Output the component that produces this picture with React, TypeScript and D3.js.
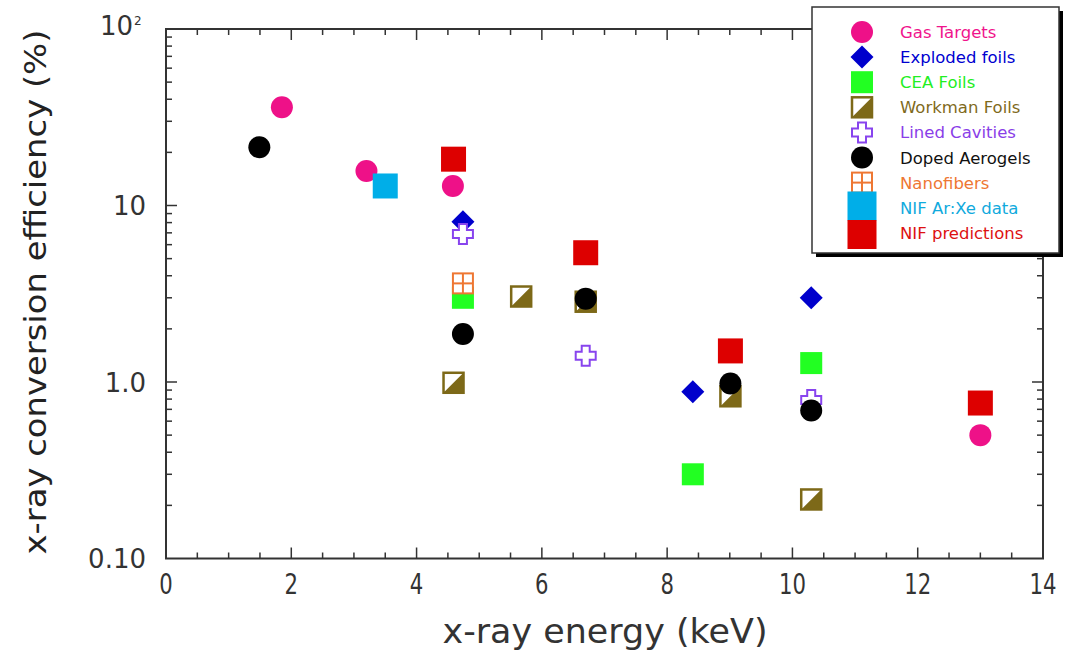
import React from 'react';
import * as d3 from 'd3';

// x-ray energy (keV) / conversion efficiency (%) pairs
const gasTargets = [[1.85, 36], [3.2, 15.7], [4.58, 12.9], [13.0, 0.5]];
const explodedFoils = [[4.74, 8.1], [8.41, 0.88], [10.3, 3.0]];
const ceaFoils = [[4.74, 3.0], [8.41, 0.3], [10.3, 1.28]];
const workmanFoils = [[4.59, 0.99], [5.67, 3.05], [6.7, 2.85], [9.01, 0.83], [10.3, 0.216]];
const linedCavities = [[4.74, 6.9], [6.7, 1.41], [10.3, 0.79]];
const dopedAerogels = [[1.49, 21.4], [4.74, 1.87], [6.7, 2.96], [9.01, 0.98], [10.3, 0.69]];
const nanofibers = [[4.74, 3.62]];
const nifArXe = [[3.5, 12.9]];
const nifPredictions = [[4.59, 18.3], [6.7, 5.4], [9.01, 1.5], [13.0, 0.76]];

const seriesNames = ['Gas Targets', 'Exploded foils', 'CEA Foils', 'Workman Foils', 'Lined Cavities',
  'Doped Aerogels', 'Nanofibers', 'NIF Ar:Xe data', 'NIF predictions'];
const seriesData = [gasTargets, explodedFoils, ceaFoils, workmanFoils, linedCavities,
  dopedAerogels, nanofibers, nifArXe, nifPredictions];
const seriesShape = ['circle', 'diamond', 'square', 'half', 'cross', 'circle', 'grid', 'big', 'big'];
const markColor = ['#ee1188', '#0000cc', '#22ff22', '#7d6918', '#8844ee', '#000000', '#ee7733', '#00aee8', '#dd0000'];
const textColor = ['#f0148c', '#0000d0', '#22ee22', '#7f6a1c', '#8a3ee8', '#111111', '#ee7733', '#11aadd', '#dd1111'];

const xTicksMajor = [0, 2, 4, 6, 8, 10, 12, 14];
const yTickLabels = [{ v: 10, t: '10' }, { v: 1, t: '1.0' }, { v: 0.1, t: '0.10' }];

const W = 1068, H = 656;
const axisColor = '#333';

const Marker = ({ shape, x, y, color, big = 25 }) => {
  if (shape === 'circle') return <circle cx={x} cy={y} r={11} fill={color} />;
  if (shape === 'diamond') {
    const s = 11.5;
    return <polygon points={`${x},${y - s} ${x + s},${y} ${x},${y + s} ${x - s},${y}`} fill={color} />;
  }
  if (shape === 'square') return <rect x={x - 11} y={y - 11} width={22} height={22} fill={color} />;
  if (shape === 'big') return <rect x={x - big / 2} y={y - big / 2} width={big} height={big} fill={color} />;
  if (shape === 'half') {
    return (
      <g>
        <rect x={x - 10} y={y - 10} width={20} height={20} fill="#fff" stroke={color} strokeWidth={2.5} />
        <polygon points={`${x + 10},${y - 10} ${x + 10},${y + 10} ${x - 10},${y + 10}`} fill={color} />
      </g>
    );
  }
  if (shape === 'cross') {
    const a = 4, b = 10;
    const d = `M${x - a},${y - b}H${x + a}V${y - a}H${x + b}V${y + a}H${x + a}V${y + b}H${x - a}V${y + a}H${x - b}V${y - a}H${x - a}Z`;
    return <path d={d} fill="#fff" stroke={color} strokeWidth={2} />;
  }
  if (shape === 'grid') {
    return (
      <g stroke={color} strokeWidth={2} fill="#fff">
        <rect x={x - 10} y={y - 10} width={20} height={20} />
        <line x1={x} x2={x} y1={y - 10} y2={y + 10} />
        <line x1={x - 10} x2={x + 10} y1={y} y2={y} />
      </g>
    );
  }
  return null;
};

export default function App() {
  const x = d3.scaleLinear().domain([0, 14]).range([166, 1043]);
  const y = d3.scaleLog().domain([0.1, 100]).range([558.5, 29]);
  const [x0, x1] = x.range();
  const [yb, yt] = y.range();

  const xMinor = d3.range(0, 14.01, 0.5).filter(v => v % 2 !== 0);
  const yMinor: number[] = [];
  [0.1, 1, 10].forEach(dec => d3.range(2, 10).forEach(m => yMinor.push(dec * m)));
  const yMajor = [1, 10];

  const legX = 812, legY = 7, legW = 247, legH = 246;
  const rowY = (i: number) => 32 + i * 25.1;

  return (
    <svg width={W} height={H} style={{ position: 'absolute', left: 0, top: 0, background: '#fff' }}
      fontFamily="'DejaVu Sans', sans-serif">
      {/* frame */}
      <rect x={x0} y={yt} width={x1 - x0} height={yb - yt} fill="none" stroke={axisColor} strokeWidth={2} />
      {/* x ticks, bottom and top */}
      <g stroke={axisColor} strokeWidth={1.5}>
        {xMinor.map(v => (
          <g key={'xm' + v}>
            <line x1={x(v)} x2={x(v)} y1={yb} y2={yb - 6} />
            <line x1={x(v)} x2={x(v)} y1={yt} y2={yt + 6} />
          </g>
        ))}
        {xTicksMajor.slice(1, -1).map(v => (
          <g key={'xM' + v}>
            <line x1={x(v)} x2={x(v)} y1={yb} y2={yb - 11} />
            <line x1={x(v)} x2={x(v)} y1={yt} y2={yt + 11} />
          </g>
        ))}
        {yMinor.map(v => (
          <g key={'ym' + v}>
            <line x1={x0} x2={x0 + 6} y1={y(v)} y2={y(v)} />
            <line x1={x1} x2={x1 - 6} y1={y(v)} y2={y(v)} />
          </g>
        ))}
        {yMajor.map(v => (
          <g key={'yM' + v}>
            <line x1={x0} x2={x0 + 11} y1={y(v)} y2={y(v)} />
            <line x1={x1} x2={x1 - 11} y1={y(v)} y2={y(v)} />
          </g>
        ))}
      </g>
      {/* x tick labels */}
      <g fill={axisColor} fontSize={28} textAnchor="middle">
        {xTicksMajor.map(v => (
          <text key={'xl' + v} x={x(v)} y={594} textLength={String(v).length * 13.5} lengthAdjust="spacingAndGlyphs">{v}</text>
        ))}
      </g>
      {/* y tick labels */}
      <g fill={axisColor} fontSize={26} textAnchor="end">
        {yTickLabels.map(d => (
          <text key={d.t} x={146} y={y(d.v) + 9.5}>{d.t}</text>
        ))}
        <text x={133} y={y(100) + 6}>10</text>
        <text x={134} y={y(100) - 4} fontSize={12} textAnchor="start">2</text>
      </g>
      {/* axis titles */}
      <text x={605} y={643} fontSize={34} textAnchor="middle" fill={axisColor}
        textLength={325} lengthAdjust="spacingAndGlyphs">x-ray energy (keV)</text>
      <text transform="translate(46,292) rotate(-90)" fontSize={31} textAnchor="middle" fill="#222"
        textLength={525} lengthAdjust="spacingAndGlyphs">x-ray conversion efficiency (%)</text>
      {/* data */}
      {seriesData.map((pts, si) => (
        <g key={'s' + si}>
          {pts.map(([e, eff], i) => (
            <Marker key={i} shape={seriesShape[si]} x={x(e)} y={y(eff)} color={markColor[si]} />
          ))}
        </g>
      ))}
      {/* legend */}
      <rect x={legX + 4} y={legY + 4} width={legW} height={legH} fill="#000" />
      <rect x={legX} y={legY} width={legW} height={legH} fill="#fff" stroke="#333" strokeWidth={1.5} />
      {seriesNames.map((n, i) => (
        <g key={'l' + n}>
          <Marker shape={seriesShape[i]} x={862} y={i >= 7 ? 206 + (i - 7) * 28.5 : rowY(i)} color={markColor[i]} big={29} />
          <text x={900} y={rowY(i) + 6} fontSize={16.5} fill={textColor[i]}>{n}</text>
        </g>
      ))}
    </svg>
  );
}
